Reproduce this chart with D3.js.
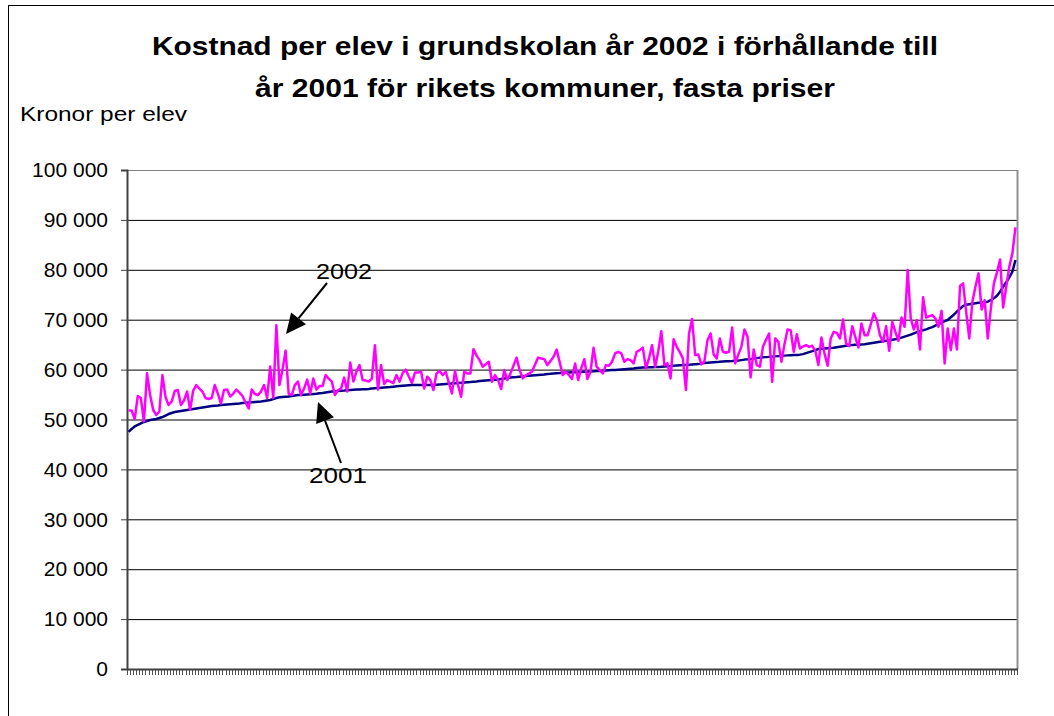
<!DOCTYPE html>
<html><head><meta charset="utf-8">
<script src="https://cdn.jsdelivr.net/npm/d3@7"></script>
<style>
html,body{margin:0;padding:0;background:#fff;}
svg{display:block;font-family:"Liberation Sans",Arial,sans-serif;}
</style></head>
<body>
<svg id="chart" width="1054" height="716"></svg>
<script>
const titleLines = ["Kostnad per elev i grundskolan år 2002 i förhållande till", "år 2001 för rikets kommuner, fasta priser"];
const yAxisTitle = "Kronor per elev";
const yTicks = [0,10000,20000,30000,40000,50000,60000,70000,80000,90000,100000];
const seriesNames = ["2001","2002"];

// 2001, sorted ascending (289 municipalities)
const values2001 = [
47500,48100,48600,48900,49200,49500,49700,49900,50000,50100,
50300,50500,50800,51100,51300,51500,51600,51700,51800,51900,
52000,52100,52200,52300,52400,52500,52600,52700,52750,52800,
52900,52950,53000,53050,53100,53150,53200,53300,53350,53400,
53450,53500,53550,53600,53700,53800,53900,54100,54300,54450,
54500,54550,54600,54700,54800,54900,54900,54950,55000,55050,
55100,55150,55250,55300,55400,55500,55600,55650,55700,55780,
55800,55850,55900,55950,56000,56000,56050,56050,56100,56200,
56250,56300,56350,56400,56450,56500,56580,56650,56700,56750,
56800,56850,56900,56900,56900,56900,56900,56900,56900,56900,
56950,57000,57050,57100,57150,57200,57250,57300,57350,57400,
57450,57500,57570,57600,57700,57750,57800,57850,57900,57950,
58000,58100,58200,58300,58400,58450,58500,58580,58650,58700,
58750,58800,58850,58900,58950,59000,59100,59150,59240,59280,
59300,59350,59400,59420,59450,59480,59500,59520,59550,59580,
59620,59660,59700,59740,59780,59820,59860,59900,59940,59980,
60020,60060,60100,60150,60200,60300,60380,60400,60420,60450,
60480,60500,60520,60550,60600,60650,60700,60750,60800,60850,
60900,60920,60950,61000,61050,61100,61200,61300,61350,61400,
61450,61500,61580,61620,61650,61680,61700,61750,61800,61900,
62000,62050,62100,62200,62300,62400,62460,62500,62550,62600,
62650,62700,62750,62800,62850,62900,62930,62950,63000,63100,
63300,63500,63700,63900,64130,64200,64250,64300,64350,64400,
64500,64600,64700,64800,64900,64930,64980,65000,65050,65100,
65200,65300,65400,65500,65600,65700,65800,65900,66000,66100,
66200,66400,66600,66800,67000,67270,67500,67700,67900,68070,
68300,68500,68800,69100,69400,69700,69940,70500,71000,71600,
72200,72750,73000,73100,73200,73300,73400,73450,73500,73600,
73900,74290,74800,75600,76610,77500,78500,79620,81960];

// 2002, same municipalities in the same order
const values2002 = [
51800,51800,50100,54700,54300,49600,59250,54900,51900,50900,51600,58900,
54500,52900,53600,55700,55900,52900,53800,55600,51900,55800,56900,
56200,55600,54300,54100,54300,56900,55200,53200,55900,56000,54600,55200,56000,
55400,54700,53400,52200,56000,55100,54900,55600,56900,54300,60600,54300,68900,
56900,60000,63800,
55200,54900,56900,57600,54900,56200,58000,55200,58200,56000,56700,56700,
58900,58200,57600,
54900,55900,56200,58400,55600,61400,57600,59600,60900,57900,
57800,57600,58200,64900,56000,60900,57100,57900,57600,57300,58900,57600,59300,
60000,58600,57300,59400,59400,59600,56200,
58580,57900,55900,59230,59700,58900,59570,57400,55240,59700,
56900,54570,59570,59230,59230,64100,62800,61900,60580,61100,
61580,57570,58900,57900,56100,59900,57900,59200,60800,62400,
59900,58240,58900,59200,59570,61000,62400,62240,62100,60900,
61700,62570,64000,61500,58900,59570,58900,58100,61240,57900,
60240,62070,58100,59570,64400,60580,59900,59230,60900,60780,
61580,63240,63570,63240,61580,62100,61900,61240,63570,63900,
64400,60240,62240,64900,60580,63570,67700,60900,61240,58240,
66100,64570,63500,62240,55900,67250,70130,62900,63040,61040,
61700,65900,67250,63040,62240,66230,63570,
63370,63570,68440,61230,63000,64560,68040,66570,58420,64030,
60900,60570,64560,66000,67240,57550,66240,65570,61560,65100,
68040,67900,63570,67100,64230,64600,64900,64560,64770,63770,
60900,66440,63230,60770,66240,67570,67370,66240,70040,65240,
64700,68710,66500,64430,69240,66900,66900,69000,71240,69900,
66900,65570,68710,63770,69570,67570,65770,70440,68570,79950,
70240,68040,69900,64030,74480,70440,70700,70910,70240,68570,
71770,61230,68240,63900,68240,64030,76740,77270,71500,66240,
73600,76610,79280,72040,73910,66240,72240,77270,79500,82080,
72440,76610,80620,83290,88490];

const categories = values2001.map((d,i)=>String(i+1));

const svg = d3.select("#chart");
const L=127, R=1017, T=170, B=669;

// outer chart border
svg.append("rect").attr("x",8.5).attr("y",5.5).attr("width",1100).attr("height",800)
  .attr("fill","#fff").attr("stroke","#000").attr("stroke-width",1);

// titles
const titleW = [786, 580];
svg.selectAll("text.title").data(titleLines).join("text").attr("class","title")
  .attr("x",545).attr("y",(d,i)=>55+i*41.5).attr("text-anchor","middle")
  .attr("font-size",25.5).attr("font-weight","bold")
  .attr("textLength",(d,i)=>titleW[i]).attr("lengthAdjust","spacingAndGlyphs").text(d=>d);
svg.append("text").attr("x",20).attr("y",121).attr("font-size",19.5)
  .attr("textLength",167).attr("lengthAdjust","spacingAndGlyphs").text(yAxisTitle);

const y = d3.scaleLinear().domain([0,100000]).range([B,T]);
const xb = d3.scaleBand().domain(categories).range([L,R]).padding(0);
const xp = d3.scalePoint().domain(categories).range([L,R]).padding(0.5);

const fmt = d3.formatLocale({decimal:",",thousands:" ",grouping:[3],currency:["","kr"]}).format(",");

// gridlines
svg.append("g").selectAll("line").data(yTicks.filter(d=>d>0)).join("line")
  .attr("x1",L).attr("x2",R).attr("y1",d=>y(d)+0.5).attr("y2",d=>y(d)+0.5)
  .attr("stroke",d=>d===100000?"#808080":"#000").attr("stroke-width",1);
// plot right border
svg.append("line").attr("x1",R+0.5).attr("x2",R+0.5).attr("y1",T).attr("y2",B)
  .attr("stroke","#909090").attr("stroke-width",2);

// y axis
const yAxis = d3.axisLeft(y).tickValues(yTicks).tickFormat(fmt).tickSize(6).tickPadding(13);
const gy = svg.append("g").attr("transform",`translate(${L},0)`).call(yAxis);
gy.select(".domain").attr("stroke","#404040").attr("stroke-width",2);
gy.selectAll(".tick line").attr("stroke","#404040");
gy.selectAll(".tick text").attr("font-size",21).attr("font-family","Liberation Sans, Arial, sans-serif").attr("fill","#000");

// x axis ticks at category boundaries
const gx = svg.append("g");
const bounds = categories.map(c=>xb(c)).concat([R]);
gx.selectAll("line").data(bounds).join("line")
  .attr("x1",d=>Math.round(d)+0.5).attr("x2",d=>Math.round(d)+0.5).attr("y1",B).attr("y2",B+6)
  .attr("stroke","#505050").attr("stroke-width",1);
gx.append("line").attr("x1",L).attr("x2",R+1).attr("y1",B+0.5).attr("y2",B+0.5)
  .attr("stroke","#404040").attr("stroke-width",2);

// lines
const line = d3.line().x((d,i)=>xp(categories[i])).y(d=>y(d));
svg.append("path").datum(values2001).attr("d",line).attr("fill","none")
  .attr("stroke","#000080").attr("stroke-width",2.5).attr("stroke-linejoin","round");
svg.append("path").datum(values2002).attr("d",line).attr("fill","none")
  .attr("stroke","#FF00FF").attr("stroke-width",2.5).attr("stroke-linejoin","round");

// annotations
function arrow(x1,y1,x2,y2){
  const g = svg.append("g");
  const dx=x2-x1, dy=y2-y1, len=Math.hypot(dx,dy), ux=dx/len, uy=dy/len;
  const hl=20, hw=9.5;
  const bx=x2-ux*hl, by=y2-uy*hl;
  g.append("line").attr("x1",x1).attr("y1",y1).attr("x2",bx).attr("y2",by)
    .attr("stroke","#000").attr("stroke-width",2);
  g.append("path").attr("d",`M${x2},${y2}L${bx-uy*hw},${by+ux*hw}L${bx+uy*hw},${by-ux*hw}Z`).attr("fill","#000");
}
svg.append("text").attr("x",316).attr("y",279).attr("font-size",22)
  .attr("textLength",56).attr("lengthAdjust","spacingAndGlyphs").text(seriesNames[1]);
arrow(327,283,286,334);
svg.append("text").attr("x",309).attr("y",483).attr("font-size",22)
  .attr("textLength",58).attr("lengthAdjust","spacingAndGlyphs").text(seriesNames[0]);
arrow(341,463,318,402);
</script>
</body></html>
